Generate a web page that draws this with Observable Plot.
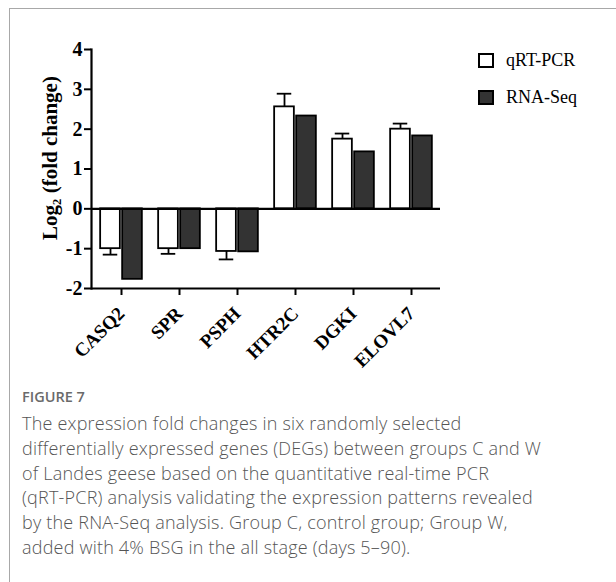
<!DOCTYPE html>
<html><head><meta charset="utf-8">
<script src="https://cdn.jsdelivr.net/npm/d3@7"></script>
<script src="https://cdn.jsdelivr.net/npm/@observablehq/plot@0.6"></script>
<style>
html,body{margin:0;padding:0;background:#fff;width:616px;height:582px;overflow:hidden}
#frame{position:absolute;left:9px;top:8px;width:700px;height:700px;border-top:1px solid #a8a8a8;border-left:1px solid #a8a8a8}
#chart{position:absolute;left:0;top:0}
.leg{position:absolute;left:478px;font-family:"Liberation Serif";font-size:18px;color:#000;display:flex;align-items:center;white-space:nowrap}
.sw{width:12px;height:11px;border:2px solid #000;margin-right:12px}
#fig{position:absolute;left:22px;top:389px;font-family:"Open Sans";font-weight:600;font-size:14.5px;color:#6a6a6a;line-height:16px}
#cap{position:absolute;left:22px;top:411px;font-family:"Open Sans";font-weight:300;font-size:18px;letter-spacing:0.2px;color:#555;line-height:24.8px;white-space:nowrap}
</style></head>
<body>
<div id="frame"></div>
<div id="chart"></div>
<div class="leg" style="top:50px"><div class="sw" style="background:#fff"></div><span id="l1"></span></div>
<div class="leg" style="top:87px"><div class="sw" style="background:#333"></div><span id="l2"></span></div>
<div id="fig">FIGURE 7</div>
<div id="cap">The expression fold changes in six randomly selected<br>differentially expressed genes (DEGs) between groups C and W<br>of Landes geese based on the quantitative real-time PCR<br>(qRT-PCR) analysis validating the expression patterns revealed<br>by the RNA-Seq analysis. Group C, control group; Group W,<br>added with 4% BSG in the all stage (days 5–90).</div>
<script>
const genes = ["CASQ2", "SPR", "PSPH", "HTR2C", "DGKI", "ELOVL7"];
const series = ["qRT-PCR", "RNA-Seq"];
const qpcr = [-1.0, -1.0, -1.07, 2.56, 1.75, 2.0];
const qpcrErr = [0.15, 0.13, 0.2, 0.33, 0.14, 0.14];
const rnaseq = [-1.77, -1.0, -1.08, 2.33, 1.43, 1.83];
const yTicks = [-2, -1, 0, 1, 2, 3, 4];
const yLabel = "Log\u2082 (fold change)";

document.getElementById("l1").textContent = series[0];
document.getElementById("l2").textContent = series[1];

const W = 616, H = 380, ML = 91, MR = 176, MT = 49, MB = 92;
const rows = genes.map((g, i) => ({gene: g, q: qpcr[i], r: rnaseq[i], end: qpcr[i] + Math.sign(qpcr[i]) * qpcrErr[i]}));
const bw = Plot.scale({x: {type: "band", domain: genes, range: [ML, W - MR]}}).bandwidth;
const half = bw / 2;
const off = 11, barHalf = 6.6, capHalf = 4;

const plot = Plot.plot({
  width: W, height: H, marginLeft: ML, marginRight: MR, marginTop: MT, marginBottom: MB,
  x: {domain: genes, padding: 0, label: null},
  y: {domain: [-2, 4], label: null},
  style: {fontFamily: "Liberation Serif", fontSize: "20px", fontWeight: "bold", color: "#000", background: "transparent", overflow: "visible"},
  marks: [
    Plot.barY(rows, {x: "gene", y: "q", fill: "#fff", stroke: "#000", strokeWidth: 1.8,
      insetLeft: half - off - barHalf, insetRight: half + off - barHalf}),
    Plot.barY(rows, {x: "gene", y: "r", fill: "#333", stroke: "#000", strokeWidth: 1.8,
      insetLeft: half + off - barHalf, insetRight: half - off - barHalf}),
    Plot.ruleX(rows, {x: "gene", y1: "q", y2: "end", dx: -off, strokeWidth: 1.8}),
    Plot.tickY(rows, {x: "gene", y: "end", strokeWidth: 1.8,
      insetLeft: half - off - capHalf, insetRight: half + off - capHalf}),
    Plot.ruleY([0], {strokeWidth: 2.2}),
    Plot.ruleY([-2], {strokeWidth: 2.2}),
    Plot.frame({anchor: "left", strokeWidth: 2.2}),
    Plot.axisY({ticks: yTicks, tickFormat: d => String(d), tickSize: 7, tickPadding: 2, strokeWidth: 2, fontSize: 20, fontWeight: "bold", label: null}),
    Plot.axisX({tickSize: 7, tickFormat: () => "", strokeWidth: 2, label: null}),
    Plot.axisX({tickSize: 0, tickPadding: 10, tickRotate: -45, dx: 0, dy: 12, fontSize: 19, fontWeight: "bold", label: null}),
    Plot.text([yLabel], {text: d => d, frameAnchor: "left", textAnchor: "middle", dx: -41, dy: -11, rotate: -90, fontSize: 21, fontWeight: "bold"})
  ]
});
document.getElementById("chart").appendChild(plot);
</script>
</body></html>
